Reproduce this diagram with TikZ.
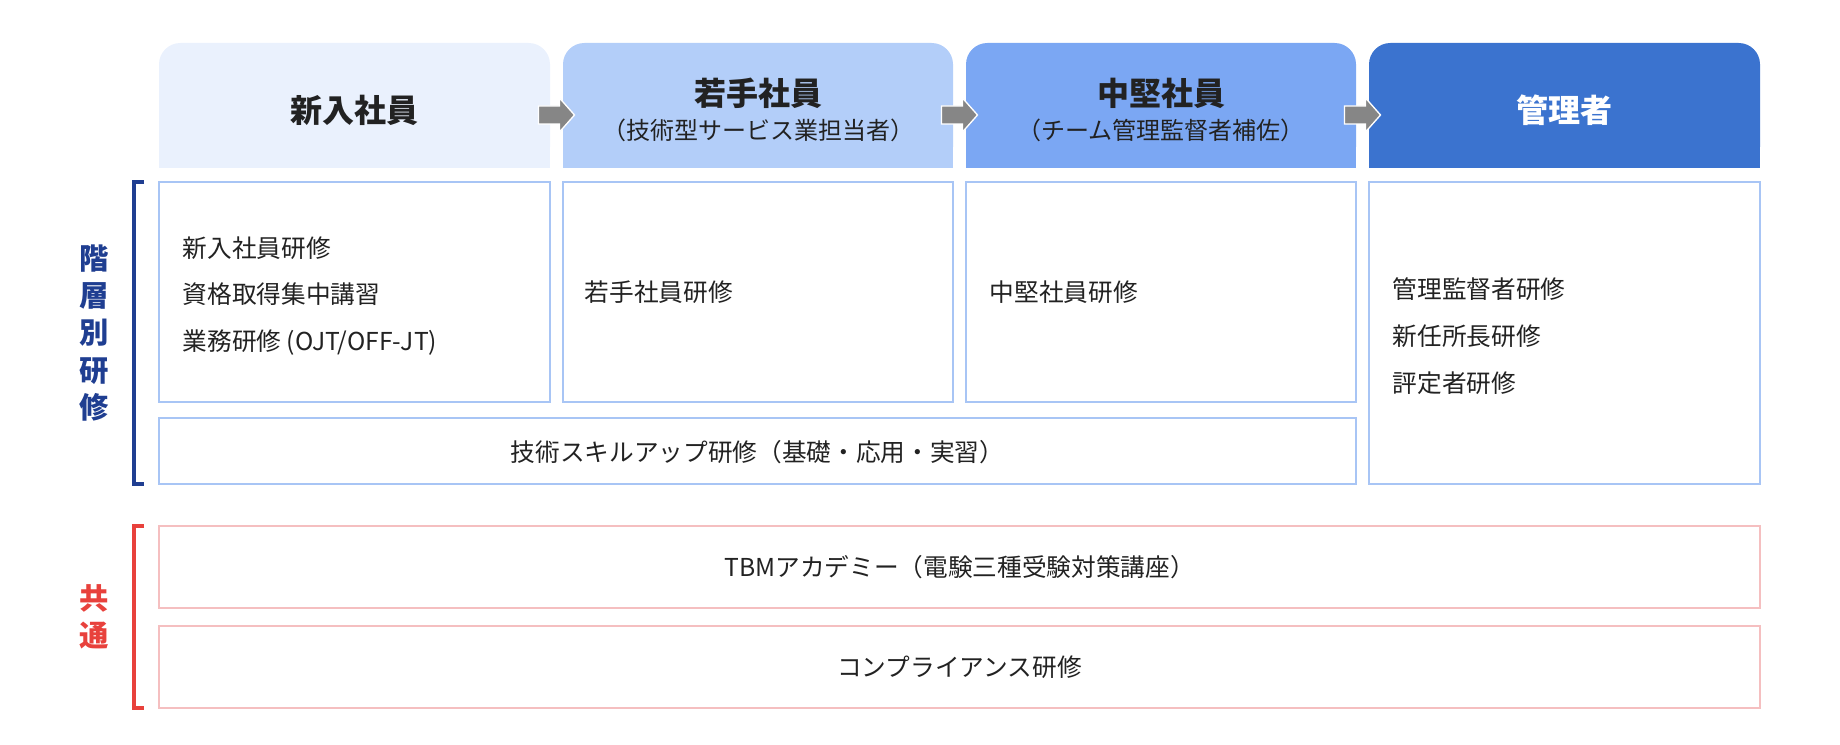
\documentclass[tikz,border=0pt]{standalone}
\usepackage{fontspec}
\setmainfont{Noto Sans CJK JP}
\definecolor{hA}{HTML}{EAF1FD}
\definecolor{hB}{HTML}{B3CEF9}
\definecolor{hC}{HTML}{7BA7F3}
\definecolor{hD}{HTML}{3B73CF}
\definecolor{bl}{HTML}{A8C5F5}
\definecolor{rd}{HTML}{F5BFC0}
\definecolor{navy}{HTML}{1F3E91}
\definecolor{red2}{HTML}{E8413C}
\definecolor{txt}{HTML}{222222}
\newcommand{\subsz}{\fontsize{18}{22}\selectfont}
\newcommand{\arrowat}[1]{\fill[gray!95,draw=white,line width=1pt] ($(#1)+(-18,-9)$) -- ++(21,0) -- ++(0,-8) -- ++(15,17) -- ++(-15,17) -- ++(0,-8) -- ++(-21,0) -- cycle;}
\usetikzlibrary{calc}
\tikzset{
 bbox/.style={draw=bl,line width=1.2pt},
 rbox/.style={draw=rd,line width=1.2pt},
 htext/.style={font=\fontsize{24}{27}\selectfont\bfseries,text=txt,align=center},
 btext/.style={font=\fontsize{18.5}{35}\selectfont,text=txt,align=left,anchor=west},
 ctext/.style={font=\fontsize{18.5}{22}\selectfont,text=txt},
}
\begin{document}
\begin{tikzpicture}[x=0.75pt,y=-0.75pt]
\useasboundingbox (0,0) rectangle (1840,745);
% headers
\foreach \c/\a/\b in {hA/159/550,hB/563/953,hC/966/1356,hD/1369/1760}{
 \path[fill=\c,rounded corners=16pt] (\a,168) -- (\a,43) -- (\b,43) -- (\b,168) [sharp corners] -- cycle;
 \fill[\c] (\a,140) rectangle (\b,168);
}
\node[htext] (h1) at (354.5,110) {新入社員};
\node[htext] (h2) at (758,110) {若手社員\\[-2pt]{\mdseries\subsz （技術型サービス業担当者）}};
\node[htext] (h3) at (1161,110) {中堅社員\\[-2pt]{\mdseries\subsz （チーム管理監督者補佐）}};
\node[htext,text=white] (h4) at (1564.5,110) {管理者};
\coordinate (a1) at (556.5,115);
\coordinate (a2) at (959.5,115);
\coordinate (a3) at (1362.5,115);
\arrowat{a1}\arrowat{a2}\arrowat{a3}
% body
\draw[bbox] (159,182) rectangle (550,402);
\draw[bbox] (563,182) rectangle (953,402);
\draw[bbox] (966,182) rectangle (1356,402);
\draw[bbox] (1369,182) rectangle (1760,484);
\draw[bbox] (159,418) rectangle (1356,484);
\node[btext] (t1) at (178,296) {新入社員研修\\資格取得集中講習\\業務研修 (OJT/OFF-JT)};
\node[btext] (t2) at (580,292) {若手社員研修};
\node[btext] (t3) at (985,292) {中堅社員研修};
\node[btext] (t4) at (1388,336) {管理監督者研修\\新任所長研修\\評定者研修};
\node[ctext] (t5) at (757.5,452) {技術スキルアップ研修（基礎・応用・実習）};
\draw[rbox] (159,526) rectangle (1760,608);
\draw[rbox] (159,626) rectangle (1760,708);
\node[ctext] (t6) at (959.5,567) {TBMアカデミー（電験三種受験対策講座）};
\node[ctext] (t7) at (959.5,667) {コンプライアンス研修};
% brackets
\draw[navy,line width=2.6pt] (144,182) -- (134,182) -- (134,484) -- (144,484);
\draw[red2,line width=2.6pt] (144,526) -- (134,526) -- (134,708) -- (144,708);
\node[text=navy,font=\fontsize{22}{28}\selectfont\bfseries,align=center] (l1) at (94,333) {階\\層\\別\\研\\修};
\node[text=red2,font=\fontsize{22}{28}\selectfont\bfseries,align=center] (l2) at (94,617) {共\\通};
\end{tikzpicture}
\end{document}
